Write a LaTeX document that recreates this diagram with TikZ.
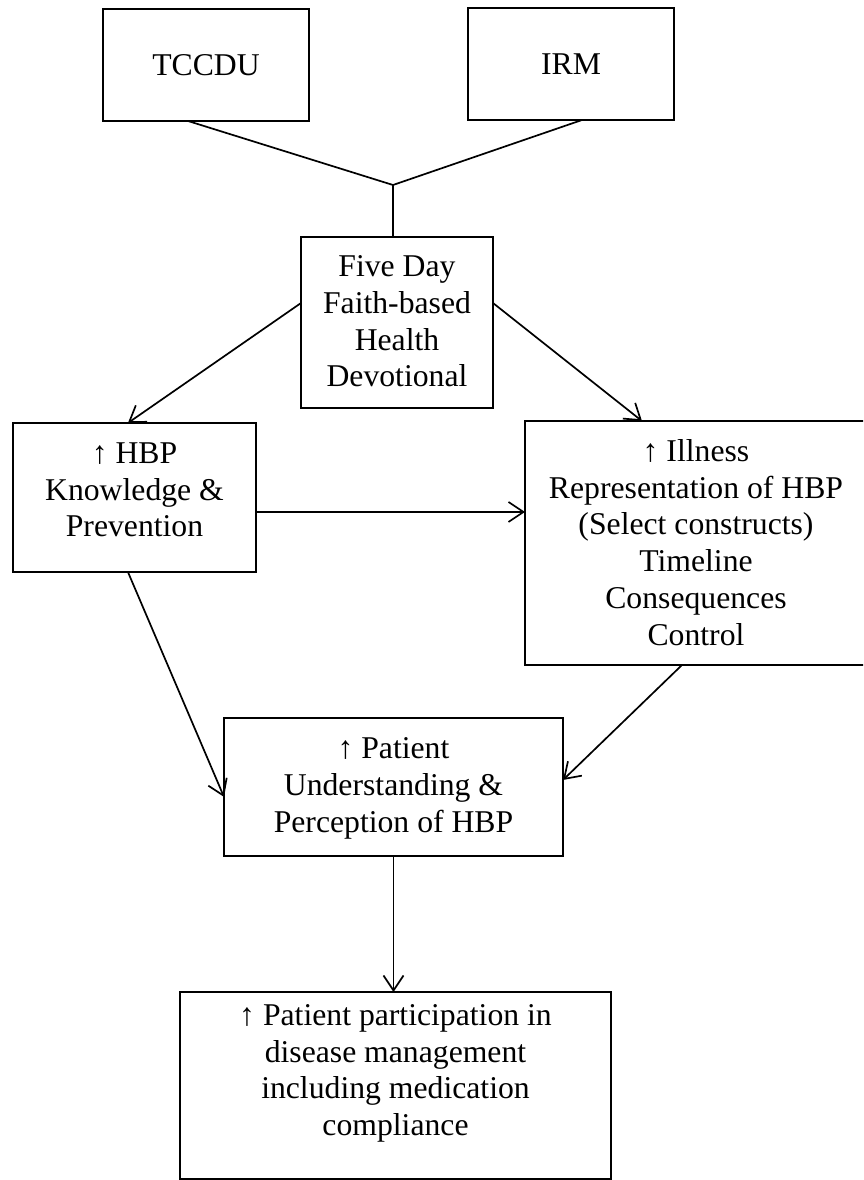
\documentclass[tikz,border=0pt]{standalone}
\usepackage{fontspec}
\setmainfont{Liberation Serif}
\usetikzlibrary{arrows.meta,calc}
\begin{document}
\begin{tikzpicture}[x=1pt,y=-1pt,
  box/.style={draw, line width=2pt, rectangle, inner sep=0pt, outer sep=0pt},
  txt/.style={align=center, inner sep=0pt, font=\fontsize{31.7}{36.7}\selectfont},
  conn/.style={line width=1.7pt},
  arr/.style={conn, -{Straight Barb[length=15pt,width=20pt]}}]
\useasboundingbox (0,0) rectangle (863,1180);
\clip (0,0) rectangle (863,1180);
% boxes
\node[box, minimum width=206pt, minimum height=112pt] (tccdu) at (206,65) {};
\node[box, minimum width=206pt, minimum height=112pt] (irm) at (571,64) {};
\node[box, minimum width=192pt, minimum height=171pt] (five) at (397,322.5) {};
\node[box, minimum width=243pt, minimum height=149pt] (hbp) at (134.5,497.5) {};
\node[box, minimum width=342pt, minimum height=244pt] (ill) at (696,543) {};
\node[box, minimum width=339pt, minimum height=138pt] (pat) at (393.5,787) {};
\node[box, minimum width=431pt, minimum height=187pt] (fin) at (395.5,1085.5) {};
% texts
\node[txt] (ttccdu) at (206,65) {TCCDU};
\node[txt] (tirm) at (571,64) {IRM};
\node[txt] (tfive) at (397,321.5) {Five Day\\Faith-based\\Health\\Devotional};
\node[txt] (thbp) at (134.5,490) {↑ HBP\\Knowledge \&\\Prevention};
\node[txt] (till) at (696,542.5) {↑ Illness\\Representation of HBP\\(Select constructs)\\Timeline\\Consequences\\Control};
\node[txt] (tpat) at (393.5,788.5) {↑ Patient\\Understanding \&\\Perception of HBP};
\node[txt] (tfin) at (395.5,1073.5) {↑ Patient participation in\\disease management\\including medication\\compliance};
% connectors
\coordinate (j) at (393,185);
\draw[conn] ($(tccdu.south)+(-18,0)$) -- (j);
\draw[conn] ($(irm.south)+(11,0)$) -- (j);
\draw[conn] (j) -- (j |- five.north);
\draw[arr] ($(five.north west)!0.386!(five.south west)$) -- ($(hbp.north west)!0.473!(hbp.north east)$);
\draw[arr] ($(five.north east)!0.386!(five.south east)$) -- ($(ill.north west)!0.342!(ill.north east)$);
\coordinate (hr) at ($(hbp.north east)!0.597!(hbp.south east)$);
\draw[arr] (hr) -- (hr -| ill.west);
\draw[arr] ($(hbp.south west)!0.473!(hbp.south east)$) -- ($(pat.north west)!0.572!(pat.south west)$);
\draw[arr] ($(ill.south west)!0.459!(ill.south east)$) -- ($(pat.north east)!0.449!(pat.south east)$);
\draw[arr] (pat.south) -- (pat.south |- fin.north);
\end{tikzpicture}
\end{document}
